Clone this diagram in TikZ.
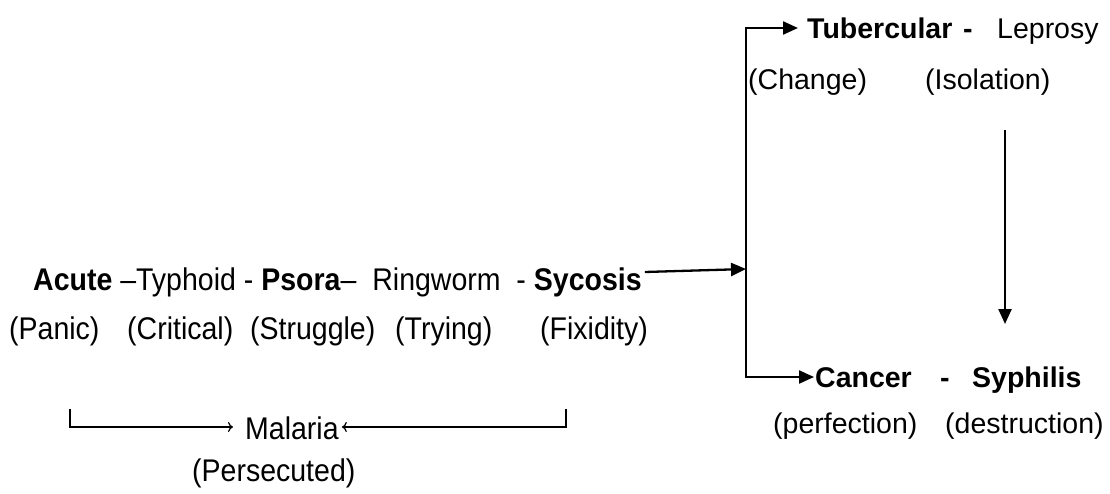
\documentclass[tikz,border=0pt]{standalone}
\usepackage{fontspec}
\setmainfont{Liberation Sans}
\usetikzlibrary{arrows.meta}
\newcommand{\tallt}[1]{\scalebox{1}[1.1]{#1}}
\tikzset{
  txt/.style={anchor=base west, inner sep=0pt, font=\fontsize{28.5}{34}\selectfont},
  thick line/.style={line width=2.6pt, line cap=rect},
  arr/.style={line width=2.3pt, -{Triangle[length=15pt,width=13pt]}},
  thin arr/.style={line width=1.2pt, -{To[length=5pt,width=10pt]}},
}
\begin{document}
\begin{tikzpicture}[x=1pt,y=-1pt]
\useasboundingbox (0,0) rectangle (1110,493);
% left rows
\node[txt] (r1) at (33,290) {\tallt{\textbf{Acute} –Typhoid - \textbf{Psora}–\ \ Ringworm\ \ - \textbf{Sycosis}}};
\node[txt] (panic) at (9,339) {\tallt{(Panic)}};
\node[txt] (crit) at (127,339) {\tallt{(Critical)}};
\node[txt] (strug) at (250,339) {\tallt{(Struggle)}};
\node[txt] (try) at (395,339) {\tallt{(Trying)}};
\node[txt] (fix) at (540,339) {\tallt{(Fixidity)}};
% top right
\node[txt] (tub) at (807,38) {\textbf{Tubercular}};
\node[txt] (tdash) at (963,38) {\textbf{-}};
\node[txt] (lep) at (997,38) {Leprosy};
\node[txt] (chg) at (748,89) {(Change)};
\node[txt] (iso) at (925,89) {(Isolation)};
% bottom right
\node[txt] (can) at (815,387) {\textbf{Cancer}};
\node[txt] (cdash) at (940,387) {\textbf{-}};
\node[txt] (syp) at (972,387) {\textbf{Syphilis}};
\node[txt] (perf) at (773,433) {(perfection)};
\node[txt] (dest) at (945,433) {(destruction)};
% malaria
\node[txt] (mal) at (245,439) {\tallt{Malaria}};
\node[txt] (pers) at (192,481) {\tallt{(Persecuted)}};
% junction
\coordinate (j) at (746,269);
\coordinate (jt) at (746,28);
\coordinate (jb) at (746,377);
\draw[arr] ([xshift=3pt]r1.east |- 0,272) -- (j);
\draw[thick line, line width=2pt] (jt) -- (jb);
\draw[arr] (jt) -- ([xshift=-9pt]tub.west |- jt);
\draw[arr] (jb) -- ([xshift=-1pt]can.west |- jb);
% down arrow
\coordinate (d1) at (1005,130);
\coordinate (d2) at (1005,324);
\draw[arr] (d1) -- (d2);
% malaria bracket
\coordinate (lt) at (70,410);
\coordinate (la) at (206,427);
\coordinate (rt) at (566,410);
\coordinate (ra) at (368,427);
\draw[thick line] (lt) |- (la);
\draw[thin arr] (la) -- ([xshift=-12pt]mal.west |- la);
\draw[thin arr] (ra) -- ([xshift=3pt]mal.east |- ra);
\draw[thick line] (ra) -| (rt);
\end{tikzpicture}
\end{document}
